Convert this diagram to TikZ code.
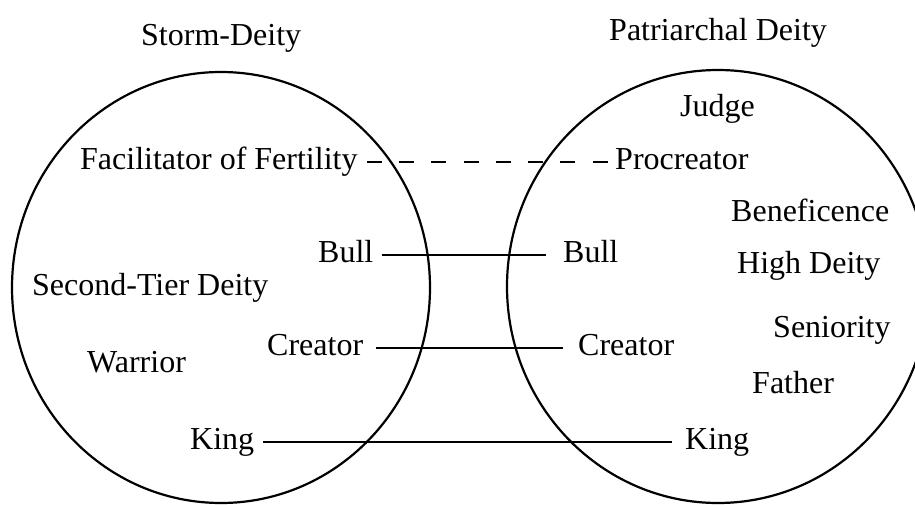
\documentclass[tikz,border=0pt]{standalone}
\usepackage{fontspec}
\setmainfont{Liberation Serif}
\begin{document}
\begin{tikzpicture}[x=1pt,y=-1pt,
  lbl/.style={inner sep=0pt,font=\fontsize{32}{38}\selectfont,anchor=base west},
  ring/.style={line width=2.2pt},
  link/.style={line width=2.2pt},
  hint/.style={line width=2.2pt,dash pattern=on 15pt off 17.3pt}]
\useasboundingbox (0,0) rectangle (915,505);

% the two domains
\draw[ring] (221,287.5) ellipse [x radius=209, y radius=215.5];
\begin{scope}
  \clip (0,0) rectangle (915,505);
  \draw[ring] (718,286.5) ellipse [x radius=211, y radius=216.5];
\end{scope}

% titles
\node[lbl] (tL) at (141,46) {Storm-Deity};
\node[lbl] (tR) at (609,41) {Patriarchal Deity};

% storm-deity attributes
\node[lbl] (fac) at (80,170) {Facilitator of Fertility};
\node[lbl] (bullL) at (318,262) {Bull};
\node[lbl] (tier) at (32,295) {Second-Tier Deity};
\node[lbl] (creL) at (267,355) {Creator};
\node[lbl] (war) at (87,372) {Warrior};
\node[lbl] (kingL) at (190,449) {King};

% patriarchal-deity attributes
\node[lbl] (judge) at (680,117) {Judge};
\node[lbl] (pro) at (615,170) {Procreator};
\node[lbl] (bene) at (731,222) {Beneficence};
\node[lbl] (bullR) at (563,262) {Bull};
\node[lbl] (high) at (737,273) {High Deity};
\node[lbl] (sen) at (773,337) {Seniority};
\node[lbl] (creR) at (578,355) {Creator};
\node[lbl] (fath) at (752,393) {Father};
\node[lbl] (kingR) at (685,449) {King};

% correspondences
\draw[hint] ([shift={(9,-8)}]fac.base east) -- ([shift={(-7,-8)}]pro.base west);
\draw[link] ([shift={(8,-7)}]bullL.base east) -- ([shift={(-17,-7)}]bullR.base west);
\draw[link] ([shift={(13,-7)}]creL.base east) -- ([shift={(-15,-7)}]creR.base west);
\draw[link] ([shift={(9,-7)}]kingL.base east) -- ([shift={(-13,-7)}]kingR.base west);
\end{tikzpicture}
\end{document}
